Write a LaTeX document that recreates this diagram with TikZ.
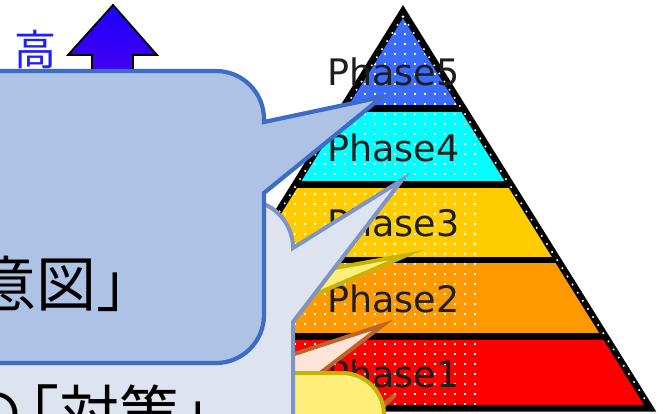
\documentclass[tikz,border=0pt]{standalone}
\usepackage{fontspec}
\setmainfont{DejaVu Sans}
\newfontfamily\jpfont{Noto Sans CJK JP}

% pyramid band colours
\definecolor{bandA}{RGB}{255,0,0}
\definecolor{bandB}{RGB}{255,153,0}
\definecolor{bandC}{RGB}{255,204,0}
\definecolor{bandD}{RGB}{0,255,255}
\definecolor{bandE}{RGB}{58,108,255}
\definecolor{phasetext}{RGB}{30,30,30}
% callout colours
\definecolor{blueFill}{RGB}{174,194,230}
\definecolor{blueLine}{RGB}{60,108,197}
\definecolor{grayFill}{RGB}{221,227,239}
\definecolor{grayLine}{RGB}{125,148,196}
\definecolor{yelFill}{RGB}{255,239,122}
\definecolor{yelLine}{RGB}{200,180,0}
\definecolor{peachFill}{RGB}{252,228,214}
\definecolor{peachLine}{RGB}{190,100,40}
\definecolor{arrowTop}{RGB}{28,0,255}
\definecolor{arrowBot}{RGB}{84,0,232}
\definecolor{highText}{RGB}{30,30,255}

\tikzset{
  phaselabel/.style={anchor=base west, inner sep=0pt, text=phasetext,
    font=\fontsize{36.5}{36.5}\selectfont},
  bigjp/.style={anchor=base east, inner sep=0pt, text=black,
    font=\jpfont\fontsize{60}{60}\selectfont},
  calloutblue/.style={fill=blueFill, draw=blueLine, line width=4.2pt, line join=miter},
  calloutgray/.style={fill=grayFill, draw=grayLine, line width=4pt, line join=miter},
  calloutyel/.style={fill=yelFill, draw=yelLine, line width=4pt, line join=miter},
  calloutpeach/.style={fill=peachFill, draw=peachLine, line width=4pt, line join=miter},
  bandsep/.style={line width=6.6pt},
}

\begin{document}
\begin{tikzpicture}[x=1pt,y=-1pt]
\useasboundingbox (0,0) rectangle (663,414);
\clip (0,0) rectangle (663,414);
\fill[white] (0,0) rectangle (663,414);

% "high" marker with upward arrow
\node[text=highText, font=\jpfont\fontsize{42}{42}\selectfont, anchor=base, inner sep=0pt] (high) at (35,66) {高};
\draw[line width=1.8pt, line join=miter, top color=arrowTop, bottom color=arrowBot]
  (113,5) -- (157,55) -- (133,55) -- (133,100) -- (92,100) -- (92,55) -- (68,55) -- cycle;

% pyramid: apex, base corners
\coordinate (apex) at (403,11.5);
\coordinate (baseR) at (650.2,408.3);
\coordinate (baseL) at (155.8,408.3);

\begin{scope}
  \clip (apex) -- (baseR) -- (baseL) -- cycle;
  \fill[bandE] (140,0) rectangle (670,108.5);
  \fill[bandD] (140,108.5) rectangle (670,184.5);
  \fill[bandC] (140,184.5) rectangle (670,260);
  \fill[bandB] (140,260) rectangle (670,336.7);
  \fill[bandA] (140,336.7) rectangle (670,420);
  % white dot screen over the left part of the bands
  \foreach \x in {255,265,...,475}
    \foreach \y in {14,24,...,404}
      \fill[white] (\x-1,\y-1) rectangle (\x+1,\y+1);
  % separators between phases
  \draw[bandsep] (140,108.5) -- (670,108.5);
  \draw[bandsep] (140,184.5) -- (670,184.5);
  \draw[bandsep] (140,260) -- (670,260);
  \draw[bandsep] (140,336.7) -- (670,336.7);
\end{scope}
\draw[line width=6.8pt, line join=miter, miter limit=10] (apex) -- (baseR) -- (baseL) -- cycle;
\draw[white, line width=1.6pt, dash pattern=on 1.6pt off 8pt] (403,16) -- (648,404);
\draw[white, line width=1.6pt, dash pattern=on 1.6pt off 8pt] (403,16) -- (158,404);

\node[phaselabel] (ph5) at (327,86) {Phase5};
\node[phaselabel] (ph4) at (327,161) {Phase4};
\node[phaselabel] (ph3) at (327,236) {Phase3};
\node[phaselabel] (ph2) at (327,312) {Phase2};
\node[phaselabel] (ph1) at (327,387) {Phase1};

% callouts pointing at the phases, back to front
\draw[calloutpeach] (395,395) -- (339,440) -- (349,440) -- cycle;
\draw[calloutpeach] (250,470) -- (250,368.5) -- (383,325) -- (300,388.5) -- (300,470) -- cycle;
\draw[calloutyel] (-60,470) -- (-60,373) -- (230,373) -- (260,281.5) -- (407,255)
  -- (260,318) -- (270,373) -- (342,373) .. controls (365.2,373) and (384,391.8) .. (384,415)
  -- (384,470) -- cycle;
\draw[calloutgray] (-60,470) -- (-60,200) -- (245,200)
  .. controls (271.5,200) and (293,221.5) .. (293,248) -- (402,180) -- (293,322)
  -- (293,470) -- cycle;
\node[bigjp] (taisaku) at (240,435) {の\kern-24pt「対策」};
\draw[calloutblue] (-60,363) -- (-60,71) -- (216,71)
  .. controls (242.5,71) and (264,92.5) .. (264,119) -- (264,122) -- (382,97) -- (264,193)
  -- (264,315) .. controls (264,341.5) and (242.5,363) .. (216,363) -- cycle;
\node[bigjp] (ito) at (157,306) {意図」};
\end{tikzpicture}
\end{document}
